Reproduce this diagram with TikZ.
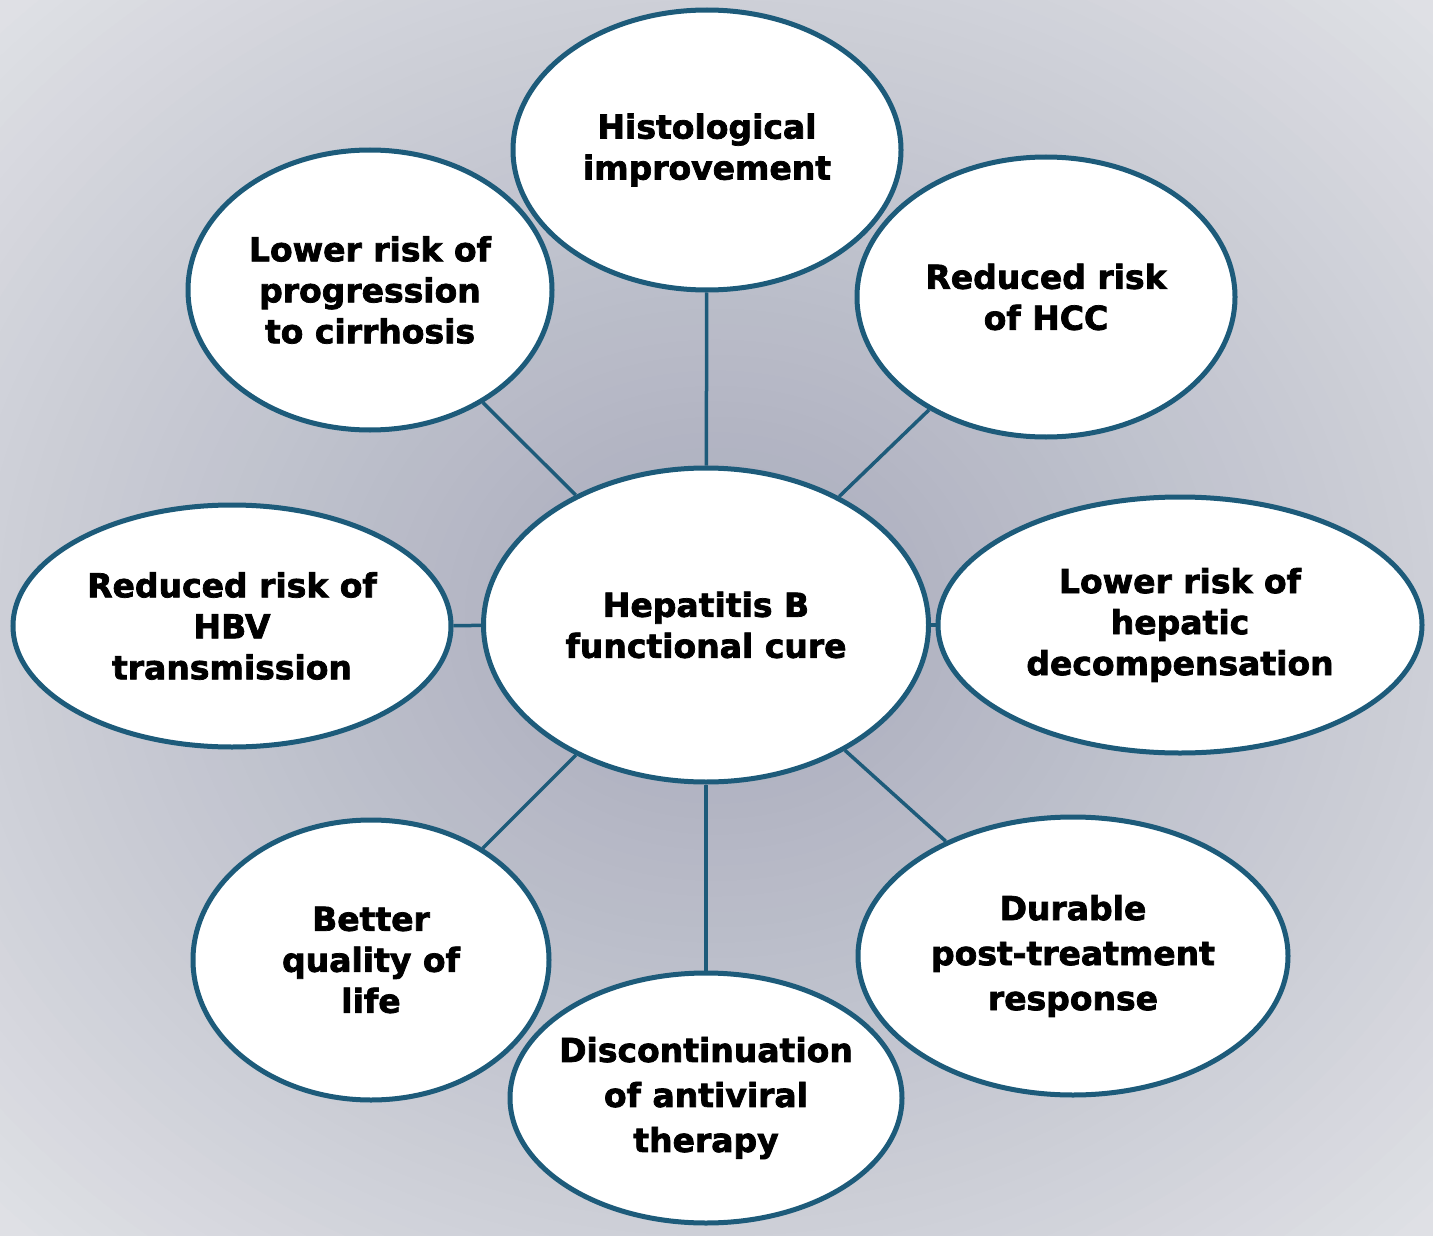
\documentclass[tikz,border=0pt]{standalone}
\usepackage{fontspec}
\setmainfont{DejaVu Sans}[BoldFeatures={FakeBold=2.2}]
\usetikzlibrary{shapes.geometric}
\definecolor{bgin}{HTML}{A6A9BA}
\definecolor{bgmid}{HTML}{CDCFD7}
\definecolor{bgout}{HTML}{DFE0E5}
\definecolor{rim}{HTML}{1D5B7A}
\tikzset{
  bub/.style={ellipse, draw=rim, line width=5pt, fill=white, inner sep=0pt},
  txt/.style={align=center, font=\fontsize{33}{41}\selectfont\bfseries, text=black},
  link/.style={draw=rim, line width=3.5pt}
}
\begin{document}
\begin{tikzpicture}[x=1pt,y=-1pt]
\useasboundingbox (0,0) rectangle (1433,1236);
\begin{scope}
\clip (0,0) rectangle (1433,1236);
\fill[bgout] (0,0) rectangle (1433,1236);
\foreach \k in {60,59,...,1}{
  \pgfmathsetmacro\d{\k*0.025}
  \ifdim\d pt>1pt
    \pgfmathsetmacro\p{min(100,(\d-1)/0.41*100)}
    \colorlet{cc}{bgout!\p!bgmid}
  \else
    \pgfmathsetmacro\p{\d*100}
    \colorlet{cc}{bgmid!\p!bgin}
  \fi
  \fill[cc] (716,618) ellipse [x radius=\d*717, y radius=\d*618];
}
\end{scope}
% ellipses
\node[bub, minimum width=445pt, minimum height=314pt] (cure) at (706,625) {};
\node[bub, minimum width=388pt, minimum height=280pt] (hist) at (707,150) {};
\node[bub, minimum width=364pt, minimum height=280pt] (cirr) at (370,290) {};
\node[bub, minimum width=378pt, minimum height=280pt] (hcc) at (1046,297) {};
\node[bub, minimum width=438pt, minimum height=242pt] (hbv) at (232,626) {};
\node[bub, minimum width=484pt, minimum height=256pt] (deco) at (1180,625) {};
\node[bub, minimum width=356pt, minimum height=280pt] (qol) at (371,960) {};
\node[bub, minimum width=392pt, minimum height=250pt] (disc) at (706,1098) {};
\node[bub, minimum width=430pt, minimum height=278pt] (dur) at (1073,956) {};
% connectors
\foreach \o in {hist,cirr,hcc,hbv,deco,qol,disc,dur}
  \draw[link] (cure) -- (\o);
% texts
\node[txt] at (cure) {Hepatitis B\\functional cure};
\node[txt] at (hist) {Histological\\improvement};
\node[txt] at (cirr) {Lower risk of\\progression\\to cirrhosis};
\node[txt] at (hcc) {Reduced risk\\of HCC};
\node[txt] at (hbv) {Reduced risk of\\HBV\\transmission};
\node[txt] at (deco) {Lower risk of\\hepatic\\decompensation};
\node[txt] at (qol) {Better\\quality of\\life};
\node[txt, font=\fontsize{33}{45}\selectfont\bfseries] at (disc) {Discontinuation\\of antiviral\\therapy};
\node[txt, font=\fontsize{33}{45}\selectfont\bfseries] at (dur) {Durable\\post-treatment\\response};
\end{tikzpicture}
\end{document}
